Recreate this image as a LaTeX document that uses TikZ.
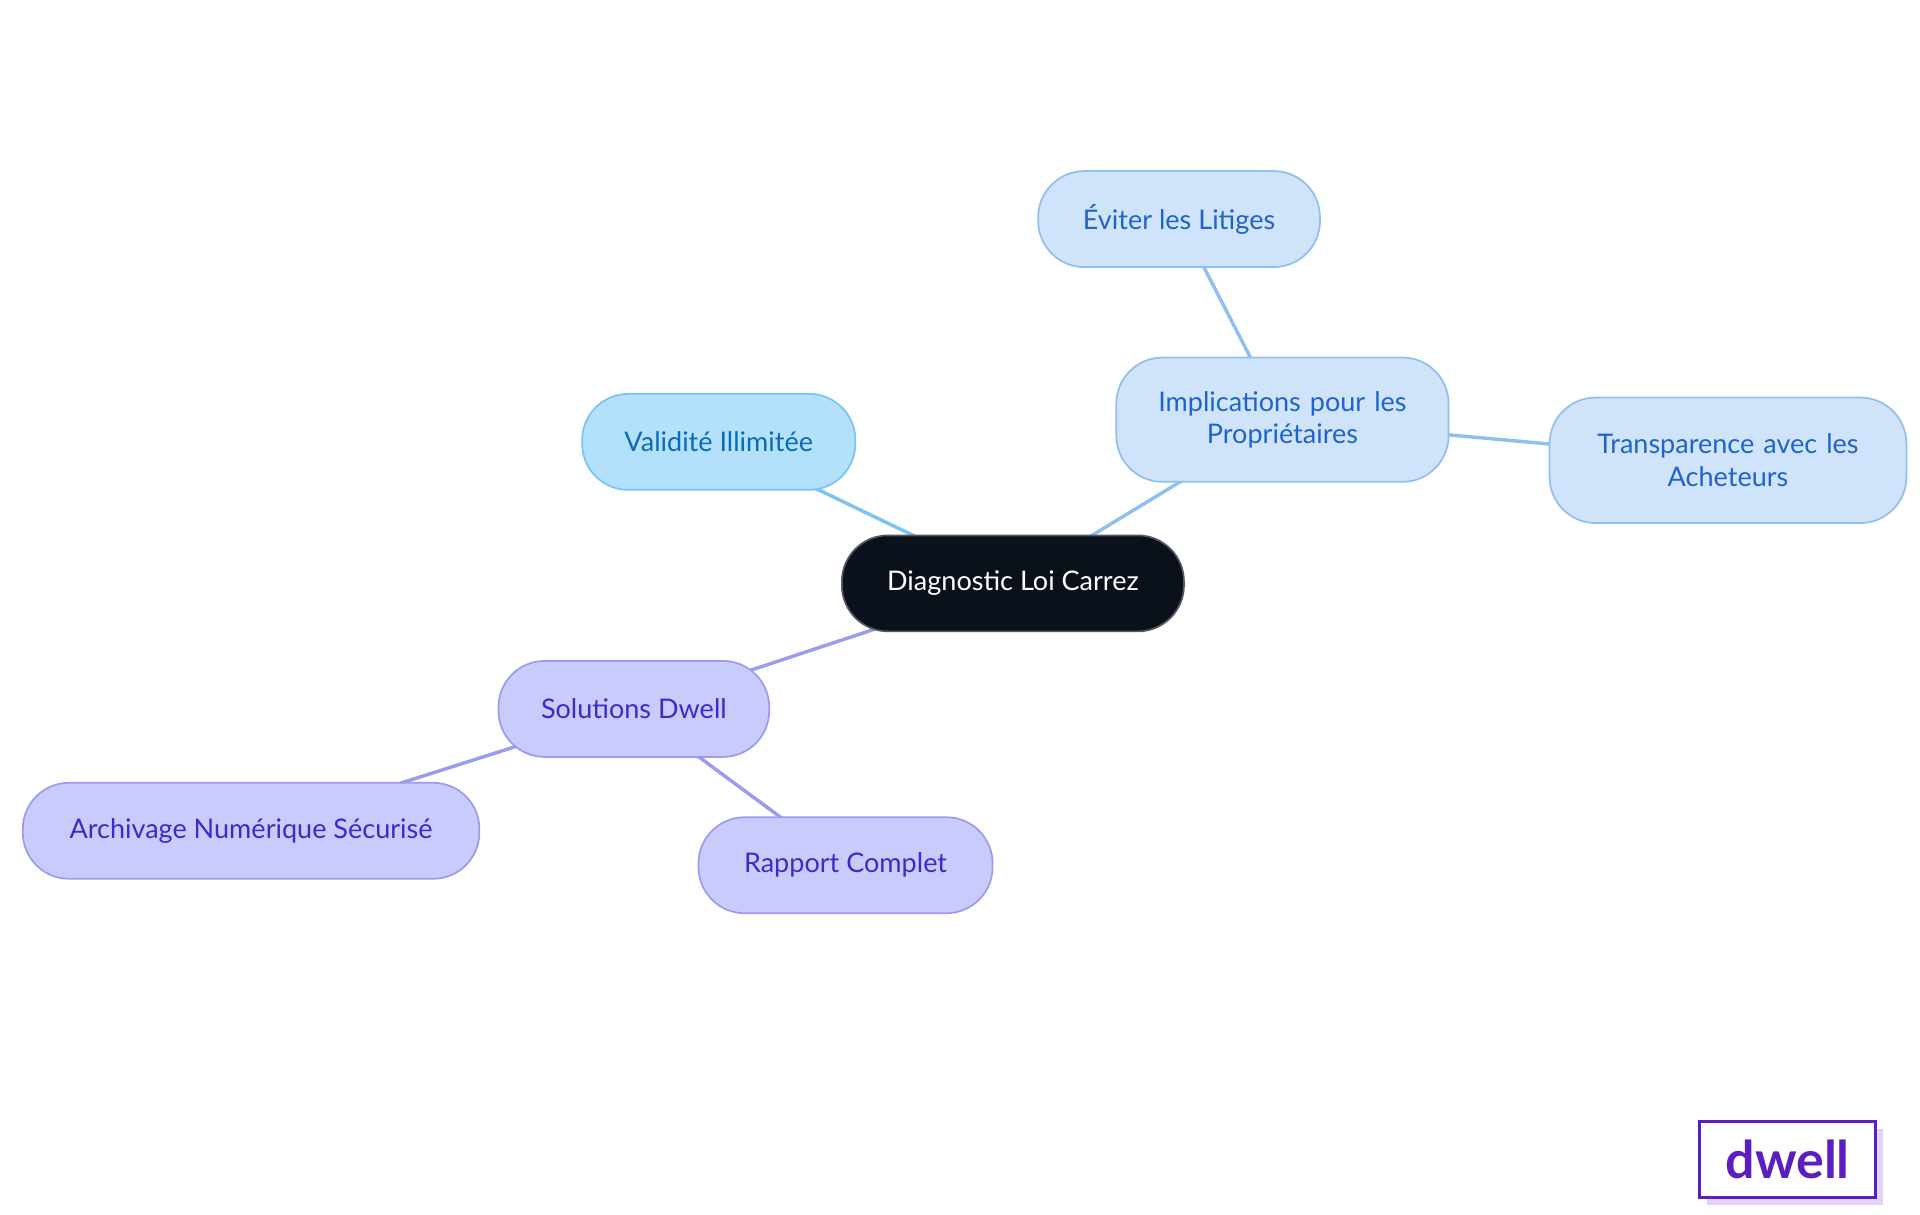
\documentclass[tikz,border=0pt]{standalone}
\usepackage{fontspec}
\setmainfont{Lato}
\usepackage{xcolor}
\usetikzlibrary{backgrounds}
\definecolor{rootfill}{HTML}{0B111B}
\definecolor{skyfill}{HTML}{B3E0FD}
\definecolor{skyline}{HTML}{7CC4F0}
\definecolor{skytext}{HTML}{0B6BB5}
\definecolor{bluefill}{HTML}{CFE3FA}
\definecolor{blueline}{HTML}{90C0F0}
\definecolor{bluetext}{HTML}{1E64CC}
\definecolor{lilacfill}{HTML}{C9CBFD}
\definecolor{lilacline}{HTML}{9B9CF0}
\definecolor{lilactext}{HTML}{3B2BC8}
\definecolor{logotext}{HTML}{5B1FC0}
\definecolor{logoshade}{HTML}{E3D4F7}
\tikzset{
  leaf/.style={draw, rounded corners=0.75cm, line width=0.8pt, align=center,
    minimum height=1.56cm, font=\fontsize{12.5}{15}\selectfont},
  sky/.style={leaf, fill=skyfill, draw=skyline, text=skytext},
  blue/.style={leaf, fill=bluefill, draw=blueline, text=bluetext},
  lilac/.style={leaf, fill=lilacfill, draw=lilacline, text=lilactext},
  branch/.style={line width=1.6pt, draw=#1},
}
\begin{document}
\begin{tikzpicture}[x=0.02cm, y=-0.02cm]
    \useasboundingbox (0,0) rectangle (1560,987);
    % nodes
    \node[leaf, fill=rootfill, draw=rootfill!70!white, text=white, minimum width=5.56cm] (root) at (823,474) {Diagnostic Loi Carrez};
    \node[sky, minimum width=4.44cm] (valid) at (584,359) {Validité Illimitée};
    \node[blue, minimum width=5.4cm, minimum height=2.02cm, text width=4.6cm] (impl) at (1042,341) {Implications pour les\\Propriétaires};
    \node[blue, minimum width=4.58cm] (litig) at (958,178) {Éviter les Litiges};
    \node[blue, minimum width=5.8cm, minimum height=2.04cm, text width=5cm] (transp) at (1404,374) {Transparence avec les\\Acheteurs};
    \node[lilac, minimum width=4.4cm] (sol) at (515,576) {Solutions Dwell};
    \node[lilac, minimum width=7.42cm] (arch) at (204,675) {Archivage Numérique Sécurisé};
    \node[lilac, minimum width=4.78cm] (rapp) at (687,703) {Rapport Complet};
    % branches, behind the nodes
    \begin{pgfonlayer}{background}
    \draw[branch=skyline] (root.center) -- (valid.center);
    \draw[branch=blueline] (root.center) -- (impl.center);
    \draw[branch=blueline] (impl.center) -- (litig.center);
    \draw[branch=blueline] (impl.center) -- (transp.center);
    \draw[branch=lilacline] (root.center) -- (sol.center);
    \draw[branch=lilacline] (sol.center) -- (arch.center);
    \draw[branch=lilacline] (sol.center) -- (rapp.center);
    \end{pgfonlayer}
    % logo
    \fill[logoshade] (1387,917) rectangle (1530,979);
    \node[draw=logotext, fill=white, line width=1.2pt, minimum width=2.86cm, minimum height=1.24cm, text=logotext, font=\bfseries\fontsize{24}{26}\selectfont] (logo) at (1452.5,942) {dwell};
\end{tikzpicture}
\end{document}
